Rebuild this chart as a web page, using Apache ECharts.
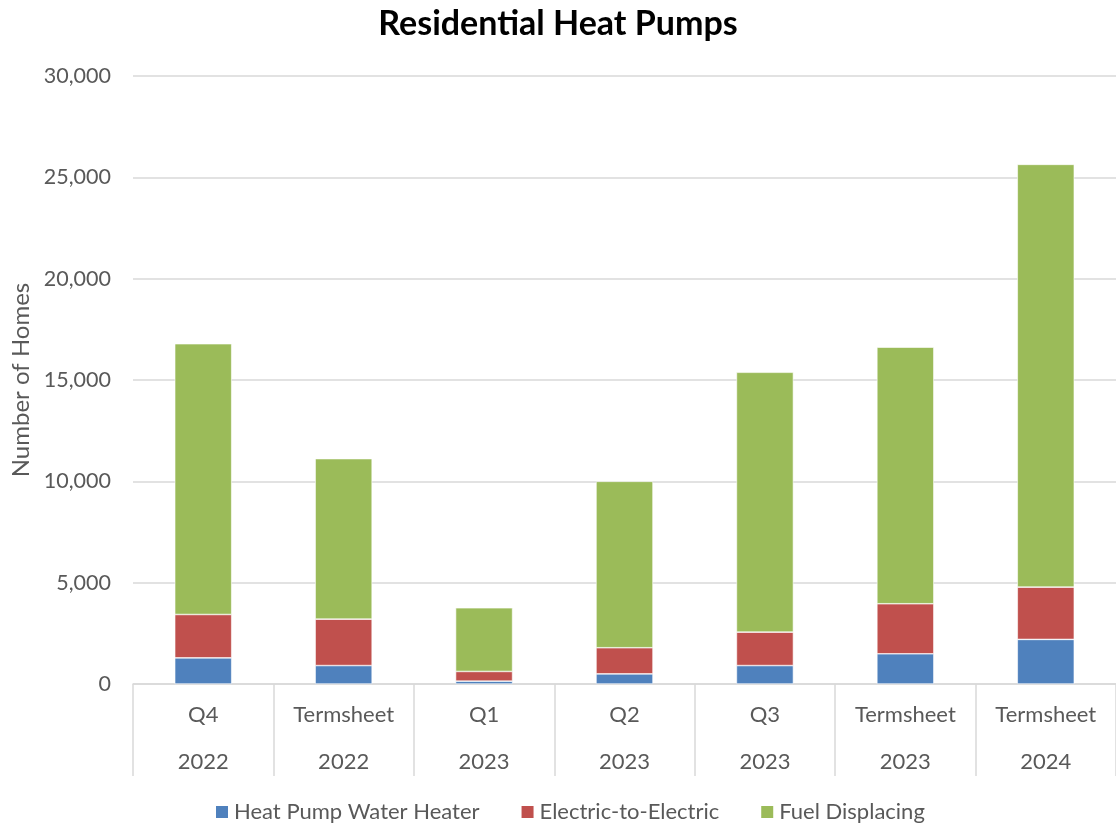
<!DOCTYPE html>
<html>
<head>
<meta charset="utf-8">
<script src="https://cdn.jsdelivr.net/npm/echarts@6/dist/echarts.min.js"></script>
<style>
html,body{margin:0;padding:0;background:#fff;}
#chart{width:1116px;height:824px;}
</style>
</head>
<body>
<div id="chart"></div>
<script>
const periods = ['Q4', 'Termsheet', 'Q1', 'Q2', 'Q3', 'Termsheet', 'Termsheet'];
const years = ['2022', '2022', '2023', '2023', '2023', '2023', '2024'];
const heatPumpWaterHeater = [1290, 910, 140, 500, 910, 1490, 2200];
const electricToElectric = [2140, 2290, 480, 1290, 1650, 2470, 2580];
const fuelDisplacing = [13360, 7920, 3140, 8210, 12820, 12660, 20860];
const yTicks = [0, 5000, 10000, 15000, 20000, 25000, 30000];

const FONT = 'Lato, "Open Sans", sans-serif';
const chart = echarts.init(document.getElementById('chart'));

function series(name, data, color) {
  return {
    name: name, type: 'bar', stack: 'total', data: data,
    barWidth: 57,
    itemStyle: { color: color, borderColor: '#ffffff', borderWidth: 0.6 },
    emphasis: { disabled: true }
  };
}

chart.setOption({
  animation: false,
  backgroundColor: '#ffffff',
  title: {
    text: 'Residential Heat Pumps',
    left: 'center', top: 2,
    textStyle: { fontFamily: FONT, fontSize: 34, fontWeight: 'bold', color: '#000000' }
  },
  legend: {
    top: 800, left: 214, padding: 0,
    itemWidth: 14, itemHeight: 14, itemGap: 40,
    icon: 'rect',
    textStyle: { fontFamily: FONT, fontSize: 22, lineHeight: 24, color: '#595959' },
    data: ['Heat Pump Water Heater', 'Electric-to-Electric', 'Fuel Displacing']
  },
  grid: { left: 133, right: 0, top: 76, bottom: 140, containLabel: false },
  xAxis: [
    {
      type: 'category', data: periods, position: 'bottom',
      axisLine: { show: true, lineStyle: { color: '#d9d9d9', width: 1.5 } },
      axisTick: { show: true, interval: 0, length: 92, alignWithLabel: false, lineStyle: { color: '#d9d9d9', width: 1.5 } },
      axisLabel: { interval: 0, margin: 20, fontFamily: FONT, fontSize: 22, color: '#595959' }
    },
    {
      type: 'category', data: years, position: 'bottom', gridIndex: 0,
      axisLine: { show: false }, axisTick: { show: false },
      axisLabel: { interval: 0, margin: 67, fontFamily: FONT, fontSize: 22, color: '#595959' }
    }
  ],
  yAxis: {
    type: 'value', min: yTicks[0], max: yTicks[yTicks.length - 1], interval: 5000,
    name: 'Number of Homes', nameLocation: 'middle', nameGap: 99, nameRotate: 90,
    nameTextStyle: { fontFamily: FONT, fontSize: 24, color: '#595959' },
    axisLine: { show: false }, axisTick: { show: false },
    splitLine: { lineStyle: { color: '#d9d9d9', width: 1.5 } },
    axisLabel: {
      margin: 22, fontFamily: FONT, fontSize: 21.5, color: '#595959',
      formatter: v => v.toLocaleString('en-US')
    }
  },
  series: [
    series('Heat Pump Water Heater', heatPumpWaterHeater, '#4F81BD'),
    series('Electric-to-Electric', electricToElectric, '#C0504D'),
    series('Fuel Displacing', fuelDisplacing, '#9BBB59')
  ]
});
</script>
</body>
</html>
